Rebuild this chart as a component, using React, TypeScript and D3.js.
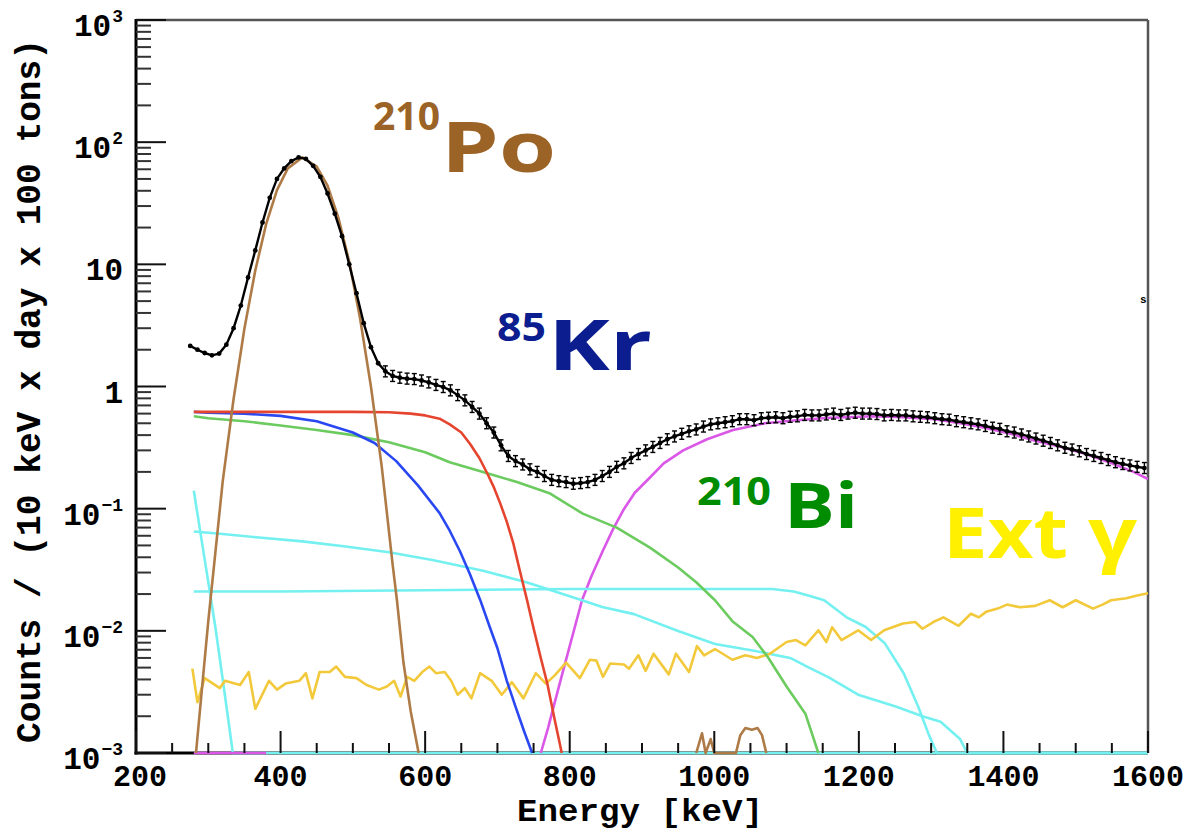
import React from 'react';
import * as d3 from 'd3';

// ---------- data ----------
const dataStart = 275;
const dataStep = 10;
const dataV = [
  2.15, 2.0, 1.88, 1.8, 1.86, 2.2, 3.0, 4.6, 7.8, 13,
  22, 35, 50, 61, 70, 75, 73, 64, 52, 38,
  26, 17, 10, 5.8, 3.3, 2.1, 1.55, 1.33, 1.22, 1.18,
  1.16, 1.15, 1.12, 1.08, 1.03, 0.99, 0.93, 0.85, 0.77, 0.68,
  0.6, 0.5, 0.42, 0.33, 0.27, 0.245, 0.23, 0.21, 0.2, 0.185,
  0.172, 0.168, 0.165, 0.16, 0.162, 0.165, 0.172, 0.185, 0.2, 0.22,
  0.235, 0.26, 0.28, 0.3, 0.32, 0.345, 0.37, 0.39, 0.41, 0.43,
  0.445, 0.47, 0.49, 0.5, 0.51, 0.52, 0.54, 0.54, 0.53, 0.55,
  0.555, 0.56, 0.55, 0.565, 0.57, 0.585, 0.58, 0.58, 0.59, 0.6,
  0.585, 0.6, 0.61, 0.6, 0.6, 0.595, 0.58, 0.585, 0.58, 0.58,
  0.57, 0.565, 0.56, 0.55, 0.54, 0.535, 0.52, 0.51, 0.5, 0.49,
  0.475, 0.46, 0.45, 0.43, 0.42, 0.405, 0.39, 0.375, 0.36, 0.345,
  0.33, 0.315, 0.305, 0.295, 0.28, 0.27, 0.26, 0.25, 0.24, 0.232,
  0.226, 0.22, 0.215,
];

const brownE = [283, 290, 300, 310, 320, 335, 350, 365, 380, 395, 410, 430, 450, 465, 480, 495, 510, 525, 540, 555, 561, 570, 580, 591];
const brownV = [0.001, 0.0028, 0.012, 0.045, 0.168, 0.79, 2.98, 8.9, 21.3, 40.5, 61, 75, 63, 44, 24, 10.5, 3.6, 1.0, 0.22, 0.035, 0.0178, 0.0055, 0.0022, 0.001];
const brownTailE = [975, 983, 988, 995, 1000, 1030, 1036, 1043, 1052, 1060, 1066, 1072];
const brownTailV = [0.001, 0.00145, 0.001, 0.0013, 0.001, 0.001, 0.0014, 0.0016, 0.00155, 0.0016, 0.0014, 0.001];

const redE = [280, 300, 350, 400, 450, 500, 550, 580, 600, 620, 634, 650, 662, 675, 686, 695, 704, 713, 722, 731, 741, 750, 760, 769, 779, 789];
const redV = [0.62, 0.62, 0.62, 0.62, 0.62, 0.62, 0.615, 0.6, 0.58, 0.545, 0.49, 0.42, 0.34, 0.26, 0.194, 0.15, 0.11, 0.078, 0.052, 0.031, 0.0178, 0.0105, 0.006, 0.0037, 0.0019, 0.001];

const blueE = [280, 300, 350, 400, 450, 500, 530, 560, 590, 620, 634, 648, 662, 676, 690, 700, 713, 725, 737, 748];
const blueV = [0.62, 0.61, 0.6, 0.575, 0.52, 0.42, 0.345, 0.245, 0.155, 0.092, 0.066, 0.045, 0.029, 0.018, 0.0105, 0.0072, 0.0039, 0.0024, 0.0015, 0.001];

const greenE = [280, 300, 350, 400, 450, 500, 550, 600, 634, 680, 727, 773, 818, 865, 911, 950, 975, 1001, 1025, 1053, 1074, 1100, 1126, 1144];
const greenV = [0.57, 0.55, 0.52, 0.48, 0.44, 0.4, 0.35, 0.29, 0.24, 0.2, 0.165, 0.133, 0.091, 0.07, 0.048, 0.033, 0.025, 0.0178, 0.012, 0.0089, 0.0061, 0.0035, 0.0021, 0.001];

const magentaE = [280, 380, 381, 760, 770, 780, 790, 800, 817, 830, 846, 860, 874, 890, 911, 930, 957, 990, 1026, 1070, 1114, 1160, 1221, 1260, 1305, 1340, 1374, 1410, 1444, 1480, 1514, 1550, 1580, 1600];
const magentaV = [0.001, 0.001, NaN, 0.001, 0.0016, 0.0027, 0.0045, 0.0075, 0.0178, 0.028, 0.0455, 0.068, 0.097, 0.135, 0.18, 0.235, 0.3, 0.37, 0.44, 0.5, 0.53, 0.555, 0.57, 0.56, 0.54, 0.5, 0.46, 0.41, 0.36, 0.32, 0.28, 0.235, 0.2, 0.175];

const cyanAE = [280, 320, 370, 430, 490, 550, 610, 680, 740, 817, 845, 889, 949, 1001, 1053, 1105, 1131, 1157, 1199, 1251, 1288, 1313, 1340, 1350, 1600];
const cyanAV = [0.065, 0.062, 0.058, 0.054, 0.049, 0.044, 0.038, 0.031, 0.025, 0.0178, 0.0157, 0.0137, 0.01, 0.0078, 0.0069, 0.006, 0.005, 0.0042, 0.003, 0.0024, 0.002, 0.0018, 0.0013, 0.001, 0.001];

const cyanBE = [280, 400, 600, 800, 1000, 1080, 1110, 1130, 1152, 1183, 1209, 1236, 1262, 1282, 1297, 1308, 1600];
const cyanBV = [0.021, 0.021, 0.0215, 0.022, 0.022, 0.022, 0.021, 0.0195, 0.0178, 0.0129, 0.0108, 0.0079, 0.0045, 0.0024, 0.0014, 0.001, 0.001];

const cyanCE = [280, 290, 304, 310, 320, 334, 1600];
const cyanCV = [0.14, 0.059, 0.0178, 0.0105, 0.004, 0.001, 0.001];

const yellowE = [278, 285, 295, 316, 323, 344, 356, 365, 384, 395, 407, 426, 435, 444, 454, 468, 477, 489, 505, 519, 536, 547, 557, 566, 575, 585, 596, 606, 615, 627, 636, 645, 655, 664, 676, 692, 706, 720, 736, 753, 767, 779, 795, 814, 828, 837, 846, 856, 875, 882, 895, 905, 916, 937, 947, 965, 976, 986, 1001, 1025, 1043, 1059, 1077, 1100, 1113, 1126, 1144, 1155, 1163, 1176, 1199, 1217, 1235, 1261, 1278, 1288, 1303, 1317, 1338, 1355, 1366, 1376, 1392, 1405, 1423, 1444, 1464, 1482, 1500, 1524, 1537, 1549, 1570, 1585, 1600];
const yellowV = [0.0049, 0.0026, 0.0041, 0.0034, 0.0039, 0.0036, 0.0046, 0.0023, 0.0039, 0.0033, 0.0037, 0.0039, 0.0045, 0.0028, 0.0046, 0.0046, 0.0051, 0.0042, 0.0041, 0.0036, 0.0033, 0.0035, 0.0039, 0.0029, 0.0042, 0.0039, 0.0046, 0.0051, 0.0045, 0.0046, 0.0039, 0.003, 0.0034, 0.0028, 0.0045, 0.0039, 0.003, 0.0038, 0.0028, 0.0045, 0.0037, 0.0043, 0.0055, 0.0041, 0.0058, 0.0057, 0.0042, 0.0054, 0.0053, 0.0049, 0.0063, 0.0047, 0.0065, 0.0044, 0.0065, 0.0046, 0.0075, 0.0063, 0.0071, 0.0058, 0.0063, 0.006, 0.0065, 0.0081, 0.0084, 0.0076, 0.0101, 0.0081, 0.0107, 0.0084, 0.0101, 0.0084, 0.0101, 0.0115, 0.0118, 0.0104, 0.0118, 0.0129, 0.011, 0.0138, 0.0129, 0.0143, 0.0152, 0.0164, 0.0156, 0.016, 0.0178, 0.0156, 0.0178, 0.0152, 0.0164, 0.0178, 0.0185, 0.0195, 0.0203];

const xTickLabels = ['200', '400', '600', '800', '1000', '1200', '1400', '1600'];
const yTickValues = [1e3, 1e2, 10, 1, 0.1, 0.01, 0.001];
const yTickBase = ['10', '10', '10', '1', '10', '10', '10'];
const yTickExp = ['3', '2', '', '', '\u22121', '\u22122', '\u22123'];

const xTitle = 'Energy [keV]';
const yTitle = 'Counts / (10 keV x day x 100 tons)';

const C = {
  brown: '#AE7B47',
  red: '#E5452F',
  blue: '#2A48F2',
  green: '#6CCB5F',
  magenta: '#DB57E8',
  cyan: '#74F0F0',
  yellow: '#F3C93C',
};

export default function App() {
  const W = 1184, H = 833;
  const L = 136, R = 1148, T = 20, B = 753;
  const x = d3.scaleLinear().domain([200, 1600]).range([L, R]);
  const y = d3.scaleLog().domain([1e-3, 1e3]).range([B, T]);
  const line = d3.line<[number, number]>()
    .defined((d) => Number.isFinite(d[1]))
    .x((d) => x(d[0]))
    .y((d) => y(Math.max(d[1], 1e-3)));
  const pairs = (E: number[], V: number[]) => E.map((e, i) => [e, V[i]] as [number, number]);

  const data = dataV.map((v, i) => [dataStart + i * dataStep, v] as [number, number]);

  const mono = '"Liberation Mono", "DejaVu Sans Mono", monospace';
  const sans = '"Open Sans", "Noto Sans", sans-serif';

  const xMajor = d3.range(200, 1601, 200);
  const xMinor = d3.range(200, 1601, 50).filter((v) => v % 200 !== 0);
  const yMinor: number[] = [];
  for (let k = -3; k < 3; k++) for (let m = 2; m <= 9; m++) yMinor.push(m * Math.pow(10, k));

  const curves: { E: number[]; V: number[]; c: string }[] = [
    { E: cyanCE, V: cyanCV, c: C.cyan },
    { E: magentaE, V: magentaV, c: C.magenta },
    { E: cyanAE, V: cyanAV, c: C.cyan },
    { E: cyanBE, V: cyanBV, c: C.cyan },
    { E: yellowE, V: yellowV, c: C.yellow },
    { E: greenE, V: greenV, c: C.green },
    { E: blueE, V: blueV, c: C.blue },
    { E: redE, V: redV, c: C.red },
    { E: brownE, V: brownV, c: C.brown },
    { E: brownTailE, V: brownTailV, c: C.brown },
  ];

  const expFont = 18;
  const expCharW = expFont * 0.6;
  const labelRight = 123;

  return (
    <svg width={W} height={H} style={{ position: 'absolute', left: 0, top: 0, background: '#fff' }}>
      <defs>
        <clipPath id="plot">
          <rect x={L} y={T} width={R - L} height={B - T + 3} />
        </clipPath>
      </defs>
      <rect x={0} y={0} width={W} height={H} fill="#fff" />

      {/* frame */}
      <line x1={L} x2={R} y1={T} y2={T} stroke="#555" strokeWidth={2.5} />
      <line x1={R} x2={R} y1={T} y2={B} stroke="#555" strokeWidth={2.5} />
      <line x1={L} x2={L} y1={T - 1} y2={B + 1.5} stroke="#000" strokeWidth={3} />
      <line x1={L - 1.5} x2={R} y1={B} y2={B} stroke="#000" strokeWidth={3} />

      {/* curves */}
      <g clipPath="url(#plot)" fill="none" strokeWidth={2.6} strokeLinejoin="round">
        {curves.map((cv, i) => (
          <path key={i} d={line(pairs(cv.E, cv.V)) || ''} stroke={cv.c} />
        ))}
      </g>

      {/* data */}
      <g clipPath="url(#plot)">
        <path d={line(data) || ''} fill="none" stroke="#000" strokeWidth={2.4} />
        {data.map(([e, v], i) => {
          const el = e >= 545 ? 0.045 : 0.012;
          const y0 = y(v * Math.pow(10, -el));
          const y1 = y(v * Math.pow(10, el));
          const cx = x(e);
          return (
            <g key={i} stroke="#000" strokeWidth={1.4}>
              <line x1={cx} x2={cx} y1={y0} y2={y1} />
              {e >= 545 && <line x1={cx - 2.5} x2={cx + 2.5} y1={y0} y2={y0} />}
              {e >= 545 && <line x1={cx - 2.5} x2={cx + 2.5} y1={y1} y2={y1} />}
              <circle cx={cx} cy={y(v)} r={2.4} fill="#000" stroke="none" />
            </g>
          );
        })}
      </g>

      {/* ticks */}
      <g stroke="#111" strokeWidth={2}>
        {yTickValues.map((v, i) => (
          <line key={'ym' + i} x1={L} x2={L + 30} y1={y(v)} y2={y(v)} />
        ))}
        {yMinor.map((v, i) => (
          <line key={'yn' + i} x1={L} x2={L + 15} y1={y(v)} y2={y(v)} stroke="#333" />
        ))}
        {xMajor.map((v, i) => (
          <line key={'xm' + i} x1={x(v)} x2={x(v)} y1={B} y2={B - 22} />
        ))}
        {xMinor.map((v, i) => (
          <line key={'xn' + i} x1={x(v)} x2={x(v)} y1={B} y2={B - 10} />
        ))}
      </g>

      {/* tick labels */}
      <g fontFamily={mono} fontWeight="bold" fill="#000">
        {yTickValues.map((v, i) => {
          const exp = yTickExp[i];
          const expW = exp ? exp.length * expCharW + 1 : 0;
          return (
            <g key={'yl' + i}>
              <text x={labelRight - expW} y={y(v) + 16} textAnchor="end" fontSize={31}>
                {yTickBase[i]}
              </text>
              {exp && (
                <text x={labelRight} y={y(v) + 2} textAnchor="end" fontSize={expFont}>
                  {exp}
                </text>
              )}
            </g>
          );
        })}
        {xMajor.map((v, i) => (
          <text key={'xl' + i} x={x(v) + (i === 0 ? 4 : 0)} y={786} textAnchor="middle" fontSize={30}>
            {xTickLabels[i]}
          </text>
        ))}
        <text x={640} y={821} textAnchor="middle" fontSize={30.5} textLength={246} lengthAdjust="spacingAndGlyphs">
          {xTitle}
        </text>
        <text transform="translate(40,391) rotate(-90)" textAnchor="middle" fontSize={34.5}>
          {yTitle}
        </text>
        <text x={1140} y={303} fontSize={11}>s</text>
      </g>

      {/* component labels */}
      <g fontFamily={sans} fontWeight={700}>
        <text x={373} y={130} fontSize={39} fill="#9C6326" textLength={67} lengthAdjust="spacingAndGlyphs">210</text>
        <text x={441} y={172} fontSize={70} fill="#9C6326" textLength={115} lengthAdjust="spacingAndGlyphs">Po</text>

        <text x={497} y={341} fontSize={39} fill="#0B1D8F" textLength={49} lengthAdjust="spacingAndGlyphs">85</text>
        <text x={548} y={370} fontSize={70} fill="#0B1D8F" textLength={104} lengthAdjust="spacingAndGlyphs">Kr</text>

        <text x={697} y={505} fontSize={39} fill="#008C00" textLength={74} lengthAdjust="spacingAndGlyphs">210</text>
        <text x={784} y={528} fontSize={63} fill="#008C00" textLength={74} lengthAdjust="spacingAndGlyphs">Bi</text>

        <text x={943} y={558} fontSize={70} fill="#FFF000" textLength={125} lengthAdjust="spacingAndGlyphs">Ext</text>
        <text x={1088} y={558} fontSize={70} fill="#FFF000" textLength={49} lengthAdjust="spacingAndGlyphs">γ</text>
      </g>
    </svg>
  );
}
